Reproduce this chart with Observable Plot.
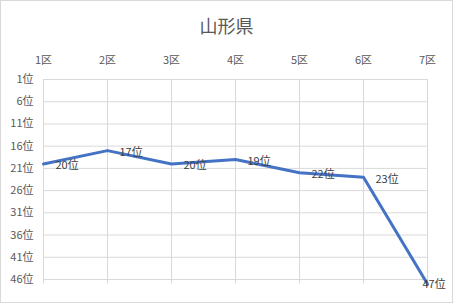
<!DOCTYPE html>
<html>
<head>
<meta charset="utf-8">
<script src="https://cdn.jsdelivr.net/npm/d3@7"></script>
<script src="https://cdn.jsdelivr.net/npm/@observablehq/plot@0.6"></script>
<style>
  html, body { margin: 0; padding: 0; background: #fff; }
  #wrap { position: relative; width: 453px; height: 303px; overflow: hidden; font-family: "Noto Sans CJK JP", "Noto Sans", sans-serif; }
  #frame { position: absolute; left: 0; top: 0; width: 451px; height: 301px; border: 1px solid #d9d9d9; pointer-events: none; }
  #title { position: absolute; left: 0; top: 12px; width: 453px; text-align: center; font-size: 18px; line-height: 26px; color: #595959; }
  #chart { position: absolute; left: 0; top: 45px; }
</style>
</head>
<body>
<div id="wrap">
  <div id="title">山形県</div>
  <div id="chart"></div>
  <div id="frame"></div>
</div>
<script>
const districts = ["1区", "2区", "3区", "4区", "5区", "6区", "7区"];
const ranks = [20, 17, 20, 19, 22, 23, 47];
const yTicks = [1, 6, 11, 16, 21, 26, 31, 36, 41, 46];

const data = districts.map((d, i) => ({district: d, rank: ranks[i], label: ranks[i] + "位"}));
const lastIdx = data.length - 1;

const chart = Plot.plot({
  width: 453,
  height: 258,
  marginLeft: 43,
  marginRight: 26,
  marginTop: 34,
  marginBottom: 24,
  style: {fontFamily: '"Noto Sans CJK JP", "Noto Sans", sans-serif', fontSize: "11px", color: "#595959", background: "transparent"},
  x: {type: "point", domain: districts, padding: 0, axis: null},
  y: {type: "linear", domain: [1, 46], reverse: true, axis: null},
  marks: [
    Plot.ruleY(yTicks, {y: d => d, stroke: "#d9d9d9", strokeWidth: 1, strokeOpacity: 1}),
    Plot.ruleX(districts, {x: d => d, y1: 1, y2: 47, stroke: "#d9d9d9", strokeWidth: 1, strokeOpacity: 1, clip: false}),
    Plot.axisX({anchor: "top", label: null, tickSize: 0, tickPadding: 16, fill: "#595959", fontSize: 11}),
    Plot.axisY({ticks: yTicks, anchor: "left", label: null, tickSize: 0, tickPadding: 10, tickFormat: d => d + "位", fill: "#595959", fontSize: 11}),
    Plot.line(data, {x: "district", y: "rank", stroke: "#4472C4", strokeWidth: 3, strokeLinejoin: "round", strokeLinecap: "round", clip: false}),
    Plot.text(data.slice(0, lastIdx), {x: "district", y: "rank", text: "label", textAnchor: "start", dx: 12, dy: 2, fill: "#404040", fontSize: 11}),
    Plot.text(data.slice(lastIdx), {x: "district", y: "rank", text: "label", textAnchor: "start", dx: -5, dy: 1, fill: "#404040", fontSize: 11})
  ]
});
document.getElementById("chart").appendChild(chart);
</script>
</body>
</html>
